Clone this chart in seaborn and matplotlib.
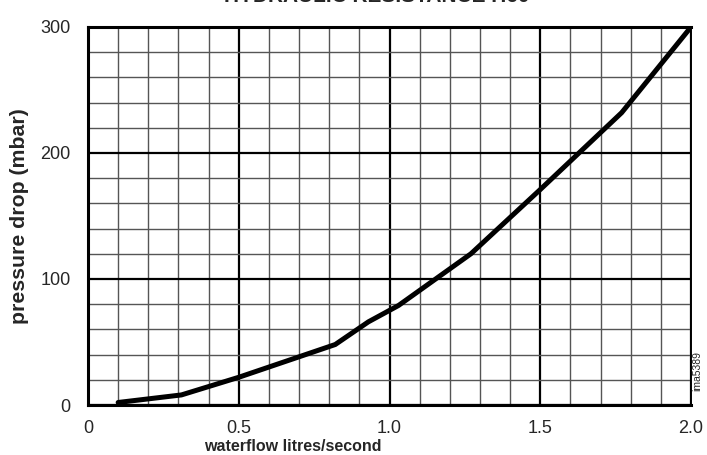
import numpy as np
import pandas as pd
import matplotlib
matplotlib.use('Agg')
import matplotlib.pyplot as plt
from matplotlib.ticker import MultipleLocator
import seaborn as sns

# curve
flow = [0.10, 0.31, 0.50, 0.82, 0.93, 1.03, 1.27, 1.50, 1.77, 2.00]
pressure = [2, 8, 22, 48, 66, 79, 120, 171, 232, 300]

x_labels = ['0', '0.5', '1.0', '1.5', '2.0']
y_labels = ['0', '100', '200', '300']

df = pd.DataFrame({'flow': flow, 'pressure': pressure})

sns.set_style('white')
plt.rcParams['font.family'] = ['Liberation Sans', 'DejaVu Sans']

fig = plt.figure(figsize=(7.07, 4.55), dpi=100)
ax = fig.add_axes([88 / 707, 1 - 405 / 455, 603 / 707, 378 / 455])

sns.lineplot(data=df, x='flow', y='pressure', ax=ax, color='black', linewidth=3.6,
             zorder=5, solid_joinstyle='miter')

ax.set_xlim(0, 2.0)
ax.set_ylim(0, 300)
ax.xaxis.set_major_locator(MultipleLocator(0.5))
ax.xaxis.set_minor_locator(MultipleLocator(0.1))
ax.yaxis.set_major_locator(MultipleLocator(100))
ax.yaxis.set_minor_locator(MultipleLocator(20))
ax.set_xticks([0, 0.5, 1.0, 1.5, 2.0], x_labels)
ax.set_yticks([0, 100, 200, 300], y_labels)

ax.grid(which='minor', color='#555555', linewidth=1.0, zorder=1)
ax.grid(which='major', color='black', linewidth=1.6, zorder=2)
ax.set_axisbelow(True)

ax.tick_params(axis='both', which='both', direction='out', color='black', labelsize=13)
ax.tick_params(axis='x', which='major', length=6, width=1.6, pad=4.5)
ax.tick_params(axis='x', which='minor', length=6, width=1.0)
ax.tick_params(axis='y', which='major', length=8.5, width=1.6, pad=4)
ax.tick_params(axis='y', which='minor', length=5, width=1.0)
# top line runs out to the 300 label
ax.yaxis.get_major_ticks()[-1].tick1line.set_markersize(24)
ax.yaxis.get_major_ticks()[-1].tick1line.set_markeredgewidth(2.2)

for side in ['left', 'bottom', 'top']:
    ax.spines[side].set_linewidth(2.2)
    ax.spines[side].set_color('black')
ax.spines['right'].set_linewidth(1.4)
ax.spines['right'].set_color('black')

ax.set_xlabel('waterflow litres/second', fontsize=11.5, fontweight='bold')
ax.xaxis.set_label_coords(0.34, -0.091)
ax.set_ylabel('pressure drop (mbar)', fontsize=15.3, fontweight='bold')
ax.yaxis.set_label_coords(-0.098, 0.5)

fig.text(377 / 707, 1 - 2.5 / 455, 'HYDRAULIC RESISTANCE H60', ha='center', va='baseline',
         fontsize=15, fontweight='bold')
fig.text(697 / 707, 1 - 371 / 455, 'ima5389', rotation=90, ha='center', va='center',
         fontsize=7.5)

plt.savefig('out.png', dpi=100)
